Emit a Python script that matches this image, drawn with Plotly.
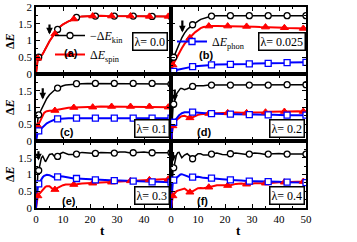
import plotly.graph_objects as go
from plotly.subplots import make_subplots

# ---------------- data ----------------
T = [0, 0.35, 0.7, 1, 1.5, 2, 2.5, 3, 3.5, 4,
     5, 6, 7, 8, 9, 10, 11, 12, 14, 15,
     17, 19, 21, 22, 24, 26, 28, 29, 31, 33,
     35, 36, 38, 40, 42, 43, 45, 47, 49, 50]

KIN_A = [0, 0.3, 0.47, 0.5, 0.52, 0.55, 0.6, 0.68, 0.76, 0.84,
         0.98, 1.1, 1.2, 1.33, 1.42, 1.48, 1.53, 1.57, 1.64, 1.69,
         1.72, 1.73, 1.73, 1.73, 1.74, 1.73, 1.73, 1.73, 1.74, 1.73,
         1.73, 1.73, 1.73, 1.73, 1.72, 1.72, 1.73, 1.73, 1.72, 1.72]
SPIN_A = [0, 0.3, 0.47, 0.5, 0.52, 0.55, 0.6, 0.68, 0.76, 0.84,
          0.98, 1.1, 1.2, 1.33, 1.42, 1.48, 1.53, 1.57, 1.64, 1.69,
          1.72, 1.73, 1.73, 1.73, 1.74, 1.73, 1.73, 1.73, 1.74, 1.73,
          1.73, 1.73, 1.73, 1.73, 1.72, 1.72, 1.73, 1.73, 1.72, 1.72]

KIN_B = [0, 0.25, 0.42, 0.5, 0.6, 0.7, 0.8, 0.9, 1.0, 1.08,
         1.22, 1.33, 1.4, 1.47, 1.53, 1.58, 1.63, 1.66, 1.71, 1.73,
         1.74, 1.74, 1.74, 1.74, 1.75, 1.74, 1.74, 1.74, 1.75, 1.74,
         1.74, 1.74, 1.75, 1.74, 1.74, 1.74, 1.75, 1.74, 1.74, 1.74]
SPIN_B = [0, 0.18, 0.27, 0.32, 0.4, 0.48, 0.56, 0.63, 0.7, 0.77,
          0.9, 1.0, 1.08, 1.17, 1.25, 1.32, 1.37, 1.4, 1.43, 1.43,
          1.43, 1.43, 1.43, 1.43, 1.43, 1.42, 1.42, 1.41, 1.41, 1.4,
          1.4, 1.39, 1.39, 1.38, 1.38, 1.37, 1.37, 1.37, 1.36, 1.36]
PHON_B = [0, 0.03, 0.06, 0.08, 0.1, 0.12, 0.13, 0.14, 0.15, 0.16,
          0.18, 0.19, 0.21, 0.22, 0.23, 0.24, 0.25, 0.25, 0.26, 0.27,
          0.28, 0.28, 0.29, 0.29, 0.3, 0.3, 0.3, 0.3, 0.31, 0.31,
          0.32, 0.32, 0.32, 0.33, 0.33, 0.34, 0.34, 0.34, 0.35, 0.35]

KIN_C = [0, 0.45, 0.65, 0.78, 0.86, 0.95, 1.05, 1.13, 1.2, 1.27,
         1.38, 1.46, 1.53, 1.58, 1.62, 1.65, 1.67, 1.68, 1.7, 1.71,
         1.71, 1.72, 1.72, 1.72, 1.72, 1.72, 1.72, 1.72, 1.72, 1.72,
         1.72, 1.72, 1.72, 1.72, 1.72, 1.72, 1.71, 1.7, 1.7, 1.7]
SPIN_C = [0, 0.38, 0.45, 0.5, 0.6, 0.7, 0.78, 0.84, 0.87, 0.89,
          0.9, 0.9, 0.91, 0.93, 0.95, 0.97, 0.98, 0.99, 1.0, 1.0,
          1.01, 1.01, 1.01, 1.02, 1.03, 1.03, 1.03, 1.02, 1.02, 1.03,
          1.03, 1.03, 1.03, 1.03, 1.03, 1.03, 1.02, 1.02, 1.01, 1.01]
PHON_C = [0, 0.22, 0.28, 0.3, 0.34, 0.4, 0.44, 0.47, 0.5, 0.53,
          0.57, 0.61, 0.64, 0.66, 0.67, 0.67, 0.68, 0.68, 0.68, 0.68,
          0.68, 0.68, 0.68, 0.68, 0.68, 0.68, 0.68, 0.68, 0.68, 0.68,
          0.68, 0.68, 0.68, 0.68, 0.68, 0.68, 0.68, 0.68, 0.68, 0.68]

KIN_D = [0, 0.6, 0.95, 1.1, 1.3, 1.4, 1.46, 1.52, 1.57, 1.57,
         1.53, 1.56, 1.6, 1.63, 1.65, 1.65, 1.64, 1.65, 1.67, 1.67,
         1.68, 1.69, 1.68, 1.67, 1.68, 1.69, 1.68, 1.67, 1.68, 1.69,
         1.68, 1.67, 1.68, 1.69, 1.68, 1.68, 1.69, 1.69, 1.68, 1.68]
SPIN_D = [0, 0.35, 0.45, 0.5, 0.57, 0.62, 0.66, 0.7, 0.72, 0.74,
          0.75, 0.72, 0.69, 0.71, 0.75, 0.78, 0.8, 0.81, 0.82, 0.83,
          0.83, 0.84, 0.84, 0.84, 0.85, 0.84, 0.84, 0.85, 0.86, 0.86,
          0.86, 0.87, 0.88, 0.88, 0.88, 0.88, 0.89, 0.89, 0.88, 0.88]
PHON_D = [0, 0.4, 0.53, 0.56, 0.62, 0.68, 0.73, 0.77, 0.8, 0.83,
          0.86, 0.87, 0.86, 0.86, 0.85, 0.84, 0.84, 0.83, 0.82, 0.82,
          0.81, 0.81, 0.8, 0.8, 0.8, 0.79, 0.79, 0.79, 0.79, 0.78,
          0.78, 0.78, 0.78, 0.77, 0.77, 0.77, 0.77, 0.77, 0.77, 0.77]

KIN_E = [0, 0.8, 1.05, 1.12, 1.35, 1.5, 1.55, 1.45, 1.38, 1.45,
         1.6, 1.62, 1.52, 1.54, 1.62, 1.66, 1.63, 1.6, 1.6, 1.61,
         1.66, 1.65, 1.62, 1.63, 1.66, 1.66, 1.64, 1.64, 1.67, 1.67,
         1.64, 1.65, 1.67, 1.67, 1.65, 1.65, 1.67, 1.67, 1.65, 1.65]
SPIN_E = [0, 0.3, 0.36, 0.4, 0.45, 0.5, 0.55, 0.6, 0.63, 0.65,
          0.65, 0.58, 0.55, 0.6, 0.65, 0.68, 0.7, 0.7, 0.7, 0.71,
          0.73, 0.74, 0.74, 0.75, 0.76, 0.77, 0.77, 0.78, 0.79, 0.8,
          0.81, 0.81, 0.82, 0.83, 0.84, 0.84, 0.85, 0.86, 0.86, 0.87]
PHON_E = [0, 0.5, 0.65, 0.72, 0.8, 0.87, 0.92, 0.96, 0.98, 0.99,
          0.98, 0.93, 0.9, 0.93, 0.95, 0.94, 0.92, 0.9, 0.88, 0.88,
          0.87, 0.86, 0.85, 0.84, 0.84, 0.83, 0.83, 0.82, 0.82, 0.81,
          0.8, 0.8, 0.79, 0.79, 0.78, 0.78, 0.78, 0.77, 0.77, 0.77]

KIN_F = [0, 0.8, 1.1, 1.2, 1.45, 1.58, 1.65, 1.66, 1.58, 1.5,
         1.58, 1.62, 1.55, 1.47, 1.55, 1.62, 1.62, 1.58, 1.58, 1.61,
         1.64, 1.6, 1.59, 1.62, 1.64, 1.61, 1.6, 1.61, 1.64, 1.63,
         1.6, 1.61, 1.63, 1.63, 1.61, 1.61, 1.63, 1.63, 1.61, 1.61]
SPIN_F = [0, 0.28, 0.36, 0.4, 0.47, 0.5, 0.52, 0.53, 0.55, 0.57,
          0.58, 0.52, 0.47, 0.5, 0.55, 0.59, 0.6, 0.59, 0.62, 0.64,
          0.68, 0.68, 0.67, 0.68, 0.72, 0.73, 0.71, 0.71, 0.74, 0.75,
          0.74, 0.74, 0.76, 0.77, 0.77, 0.77, 0.78, 0.79, 0.79, 0.8]
PHON_F = [0, 0.6, 0.8, 0.83, 0.87, 0.9, 0.94, 0.97, 1.0, 1.01,
          0.98, 0.94, 0.92, 0.92, 0.93, 0.93, 0.92, 0.9, 0.89, 0.89,
          0.87, 0.86, 0.84, 0.84, 0.83, 0.82, 0.8, 0.8, 0.8, 0.8,
          0.79, 0.79, 0.78, 0.78, 0.77, 0.77, 0.77, 0.76, 0.76, 0.76]

CIRCLE_T = [1, 8, 15, 22, 29, 36, 43, 50]      # marker times for circles / squares
TRIANGLE_T = [0.7, 7, 14, 21, 28, 35, 42, 49]  # marker times for triangles

PANEL_LABELS = ["(a)", "(b)", "(c)", "(d)", "(e)", "(f)"]
LAMBDAS = ["0.0", "0.025", "0.1", "0.2", "0.3", "0.4"]
DASHED = [1.9, 1.89, 1.8, 1.78, 1.72, 1.71]
ARROW_T = [5, 4.2, 2.5, 1.4, 0.9, 0.75]
ARROW_TOP = [1.52, 1.64, 1.62, 1.58, 1.74, 1.72]
ARROW_TIP = [1.18, 1.24, 1.24, 1.18, 1.42, 1.38]

X_TICKS_LEFT = [0, 10, 20, 30, 40]
X_TICKS_RIGHT = [0, 10, 20, 30, 40, 50]
Y_TICKS_TOP = [0, 0.5, 1, 1.5, 2]
Y_TICKS_LOW = [0, 0.5, 1, 1.5]

KIN = [KIN_A, KIN_B, KIN_C, KIN_D, KIN_E, KIN_F]
SPIN = [SPIN_A, SPIN_B, SPIN_C, SPIN_D, SPIN_E, SPIN_F]
PHON = [None, PHON_B, PHON_C, PHON_D, PHON_E, PHON_F]

for arr in KIN + SPIN + [p for p in PHON if p]:
    assert len(arr) == len(T)

# ---------------- figure ----------------
SERIF = "Liberation Serif"
W, H = 357, 242
L, R, TOP, B = 36, 51, 7, 34
pw, ph = W - L - R, H - TOP - B


def px2paper(px, py):
    return (px - L) / pw, (H - B - py) / ph


fig = make_subplots(rows=3, cols=2, horizontal_spacing=0, vertical_spacing=0)
cells = [(1, 1), (1, 2), (2, 1), (2, 2), (3, 1), (3, 2)]

ci = [T.index(t) for t in CIRCLE_T]
ti = [T.index(t) for t in TRIANGLE_T]


def sparse(vals, idx):
    xs, ys = [], []
    for i in idx:
        xs += [T[i], None]
        ys += [vals[i], None]
    return xs, ys


for k, (r, c) in enumerate(cells):
    fig.add_hline(y=DASHED[k], row=r, col=c,
                  line=dict(color="black", dash="dash", width=1.5))
    fig.add_trace(go.Scatter(x=T, y=KIN[k], mode="lines", showlegend=False,
                             line=dict(color="black", width=1.5)), row=r, col=c)
    fig.add_trace(go.Scatter(x=T, y=SPIN[k], mode="lines", showlegend=False,
                             line=dict(color="red", width=2)), row=r, col=c)
    if PHON[k] is not None:
        fig.add_trace(go.Scatter(x=T, y=PHON[k], mode="lines", showlegend=False,
                                 line=dict(color="blue", width=2)), row=r, col=c)
    xs, ys = sparse(KIN[k], ci)
    fig.add_trace(go.Scatter(x=xs, y=ys, mode="lines+markers", connectgaps=False,
                             name="\u2212\u0394<i>E</i><sub>kin</sub>",
                             showlegend=(k == 0), legend="legend",
                             line=dict(color="black", width=1.5),
                             marker=dict(symbol="circle", size=6, color="white",
                                         line=dict(color="black", width=1.3))),
                  row=r, col=c)
    xs, ys = sparse(SPIN[k], ti)
    fig.add_trace(go.Scatter(x=xs, y=ys, mode="lines+markers", connectgaps=False,
                             name="\u0394<i>E</i><sub>spin</sub>",
                             showlegend=(k == 0), legend="legend",
                             line=dict(color="red", width=2),
                             marker=dict(symbol="triangle-up", size=7, color="red",
                                         line=dict(color="red", width=1))),
                  row=r, col=c)
    if PHON[k] is not None:
        xs, ys = sparse(PHON[k], ci)
        fig.add_trace(go.Scatter(x=xs, y=ys, mode="lines+markers", connectgaps=False,
                                 name="\u0394<i>E</i><sub>phon</sub>",
                                 showlegend=(k == 1), legend="legend2",
                                 line=dict(color="blue", width=2),
                                 marker=dict(symbol="square", size=6, color="white",
                                             line=dict(color="blue", width=1.3))),
                      row=r, col=c)

    xr = "x" if k == 0 else f"x{k+1}"
    yr = "y" if k == 0 else f"y{k+1}"
    lab_pos = [(13, 0.63), (13, 0.57), (11.3, 0.28), (12.3, 0.28), (12.3, 0.2), (11.7, 0.2)][k]
    fig.add_annotation(x=lab_pos[0], y=lab_pos[1], xref=xr, yref=yr, showarrow=False,
                       xanchor="center", yanchor="middle",
                       text=f"<b>{PANEL_LABELS[k]}</b>",
                       font=dict(family="Liberation Sans", size=11, color="black"))
    if r == 1:
        fig.add_annotation(x=50, y=0.96, xref=xr, yref=yr, xanchor="right", yanchor="middle",
                           xshift=(-3 if c == 1 else 0), showarrow=False,
                           text=f"\u03bb= {LAMBDAS[k]}", bgcolor="white",
                           bordercolor="black", borderwidth=1.5, borderpad=1,
                           font=dict(family=SERIF, size=12, color="black"))
    else:
        fig.add_annotation(x=50, y=0, xref=xr, yref=yr, xanchor="right", yanchor="bottom",
                           xshift=-1, yshift=3, showarrow=False,
                           text=f"\u03bb= {LAMBDAS[k]}", bgcolor="white",
                           bordercolor="black", borderwidth=1.5, borderpad=1,
                           font=dict(family=SERIF, size=12, color="black"))
    fig.add_annotation(x=ARROW_T[k], y=ARROW_TIP[k], ax=ARROW_T[k], ay=ARROW_TOP[k],
                       xref=xr, yref=yr, axref=xr, ayref=yr, showarrow=True,
                       arrowhead=2, arrowsize=0.6, arrowwidth=2.2, arrowcolor="black",
                       text="")

tickfont = dict(family=SERIF, size=11, color="black")
for k, (r, c) in enumerate(cells):
    xt = X_TICKS_LEFT if c == 1 else X_TICKS_RIGHT
    fig.update_xaxes(range=[0, 50], tickmode="array", tickvals=xt,
                     ticktext=[str(v) for v in xt],
                     showticklabels=(r == 3),
                     ticks="inside", ticklen=4, tickwidth=1, tickcolor="black",
                     minor=dict(tickmode="linear", tick0=0, dtick=5, ticks="inside",
                                ticklen=2, tickcolor="black"),
                     showline=True, linecolor="black", linewidth=1.5, mirror="allticks",
                     showgrid=False, zeroline=False, tickfont=tickfont,
                     row=r, col=c)
    yt = Y_TICKS_TOP if r == 1 else Y_TICKS_LOW
    fig.update_yaxes(range=[0, 2], tickmode="array", tickvals=yt,
                     ticktext=[("%g" % v) for v in yt],
                     showticklabels=(c == 1),
                     ticks="inside", ticklen=4, tickwidth=1, tickcolor="black",
                     minor=dict(tickmode="linear", tick0=0, dtick=0.25, ticks="inside",
                                ticklen=2, tickcolor="black"),
                     showline=True, linecolor="black", linewidth=1.5, mirror="allticks",
                     showgrid=False, zeroline=False, tickfont=tickfont,
                     row=r, col=c)

# axis titles as text
for cx in (102, 238):
    px_, py_ = px2paper(cx, 230)
    fig.add_annotation(x=px_, y=py_, xref="paper", yref="paper", showarrow=False,
                       xanchor="center", yanchor="middle",
                       text="<b>t</b>", font=dict(family=SERIF, size=13, color="black"))
for cy in (41, 107, 174):
    px_, py_ = px2paper(10, cy)
    fig.add_annotation(x=px_, y=py_, xref="paper", yref="paper", showarrow=False,
                       xanchor="center", yanchor="middle",
                       textangle=-90, text="<b>\u0394<i>E</i></b>",
                       font=dict(family=SERIF, size=12, color="black"))

lx, ly = px2paper(50, 21)
l2x, l2y = px2paper(172, 27)
legend_common = dict(bgcolor="rgba(0,0,0,0)", borderwidth=0, tracegroupgap=0,
                     font=dict(family=SERIF, size=12, color="black"),
                     xanchor="left", yanchor="top", itemwidth=30)
fig.update_layout(
    width=W, height=H,
    margin=dict(l=L, r=R, t=TOP, b=B, autoexpand=False),
    plot_bgcolor="white", paper_bgcolor="white",
    hovermode=False,
    legend=dict(x=lx, y=ly, **legend_common),
    legend2=dict(x=l2x, y=l2y, **legend_common),
)

fig.write_html("out.html", config={"displayModeBar": False},
               post_script="document.body.style.margin='0';document.body.style.padding='0';")
